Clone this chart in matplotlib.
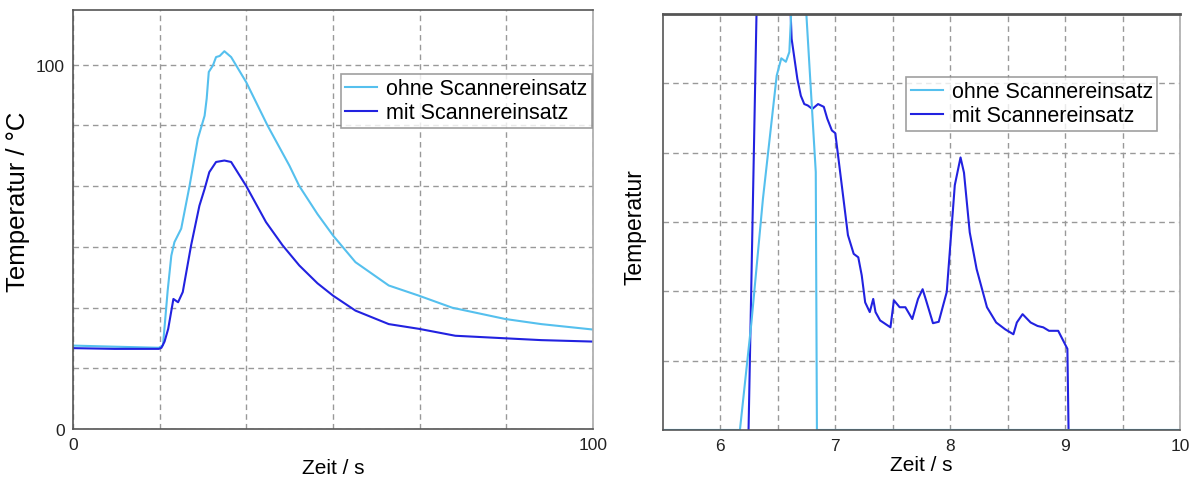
import numpy as np
import matplotlib
matplotlib.use('Agg')
import matplotlib.pyplot as plt

plt.rcParams['font.family'] = ['Liberation Sans', 'DejaVu Sans']

# left panel: full measurement (0-100 s)
t_ohne = [0, 8, 16.5, 17.3, 18.2, 18.9, 19.5, 20.8, 22.4, 24.0, 25.3, 25.7, 26.1,
          26.9, 27.5, 28.2, 29.1, 30.4, 33.3, 37.4, 41.6, 43.5, 47, 50, 54.3,
          60.7, 66.5, 72.9, 83.1, 90, 100]
T_ohne = [22.9, 22.6, 22.3, 23, 38, 47.6, 51.3, 55, 66.7, 79.7, 86, 90.7, 98,
          99.8, 102.1, 102.4, 103.7, 102.1, 95.2, 83.3, 72.3, 66.7, 59, 53.1, 45.8,
          39.4, 36.6, 33.3, 30.2, 28.8, 27.3]
t_mit = [0, 8, 16.5, 17.0, 17.6, 18.3, 19.3, 20.2, 21.1, 22.7, 24.3, 25.3, 26.2,
         27.5, 29.1, 30.4, 33.3, 37.1, 40.3, 43.5, 47, 50, 54.3, 60.7, 66.5,
         73.5, 83.1, 90, 100]
T_mit = [22.2, 22.0, 22.0, 22.3, 24, 27.5, 35.7, 34.8, 37.6, 50.4, 61.3, 65.9, 70.5,
         73.3, 73.7, 73.3, 66.7, 56.8, 50.4, 44.9, 40, 36.6, 32.5, 28.8, 27.5,
         25.6, 24.9, 24.4, 24.0]

# right panel: zoom (5.5-10 s), arbitrary temperature scale
z_ohne = [5.5, 6.17, 6.27, 6.37, 6.49, 6.53, 6.57, 6.60, 6.63, 6.73, 6.83, 6.84, 10]
Z_ohne = [0, 0, 1.55, 3.33, 5.11, 5.36, 5.31, 5.45, 6.5, 6.5, 3.72, 0, 0]
z_mit = [6.245, 6.32, 6.60, 6.62, 6.67, 6.70, 6.73, 6.76, 6.80, 6.85, 6.90, 6.93,
         6.97, 7.0, 7.06, 7.11, 7.16, 7.20, 7.23, 7.26, 7.30, 7.33, 7.35, 7.39,
         7.48, 7.51, 7.56, 7.61, 7.67, 7.72, 7.76, 7.79, 7.85, 7.90, 7.97, 8.04,
         8.09, 8.12, 8.17, 8.23, 8.32, 8.40, 8.48, 8.55, 8.58, 8.63, 8.70, 8.76,
         8.81, 8.86, 8.94, 9.02, 9.03]
Z_mit = [0, 6.5, 6.5, 5.64, 5.06, 4.82, 4.70, 4.68, 4.63, 4.70, 4.66, 4.49,
         4.32, 4.28, 3.48, 2.81, 2.54, 2.49, 2.23, 1.84, 1.70, 1.89, 1.70, 1.58,
         1.48, 1.87, 1.77, 1.77, 1.60, 1.89, 2.03, 1.87, 1.54, 1.56, 1.99, 3.53,
         3.93, 3.71, 2.85, 2.32, 1.77, 1.55, 1.45, 1.38, 1.55, 1.67, 1.55, 1.50,
         1.48, 1.43, 1.43, 1.17, 0]

labels = ['ohne Scannereinsatz', 'mit Scannereinsatz']
c_light = '#55C0EE'
c_dark = '#2222E0'

fig = plt.figure(figsize=(11.93, 4.81), dpi=100)
ax1 = fig.add_axes([0.0612, 0.106, 0.436, 0.871])
ax2 = fig.add_axes([0.5557, 0.104, 0.4334, 0.865])

ax1.plot(t_ohne, T_ohne, color=c_light, lw=1.5, label=labels[0])
ax1.plot(t_mit, T_mit, color=c_dark, lw=1.5, label=labels[1])
ax1.set_xlim(0, 100)
ax1.set_ylim(0, 115)
ax1.set_xticks([0, 100])
ax1.set_yticks([0, 100])
ax1.set_xticks(np.linspace(0, 100, 7)[1:-1], minor=True)
ax1.set_yticks(np.arange(1, 7) * 100 / 6, minor=True)
ax1.set_xlabel('Zeit / s', fontsize=15)
ax1.set_ylabel('Temperatur / °C', fontsize=18.5)
ax1.yaxis.set_label_coords(-0.083, 0.545)

ax2.plot(z_mit, Z_mit, color=c_dark, lw=1.5, label=labels[1])
ax2.plot(z_ohne, Z_ohne, color=c_light, lw=1.5, label=labels[0])
ax2.set_xlim(5.5, 10)
ax2.set_ylim(0, 6)
ax2.set_xticks([6, 7, 8, 9, 10])
ax2.set_xticks(np.arange(6.5, 10, 1.0), minor=True)
ax2.set_yticks([])
ax2.set_yticks([1, 2, 3, 4, 5], minor=True)
ax2.set_xlabel('Zeit / s', fontsize=15, labelpad=1)
ax2.set_ylabel('Temperatur', fontsize=16.5)
ax2.yaxis.set_label_coords(-0.031, 0.49)

for ax in (ax1, ax2):
    ax.grid(True, which='both', color='#999999', linestyle=(0, (4, 3)), lw=1)
    ax.tick_params(which='both', length=0, labelsize=12.5, colors='#222222', pad=6)
    for s in ax.spines.values():
        s.set_color('#555555')
        s.set_linewidth(1.2)
    ax.spines['right'].set_color('#aaaaaa')
    ax.set_axisbelow(True)

ax1.spines['top'].set_color('#555555')
ax2.spines['top'].set_linewidth(2)

h, l = ax2.get_legend_handles_labels()
leg1 = ax1.legend(loc='upper right', bbox_to_anchor=(0.997, 0.848), fontsize=15.5,
                  frameon=True, fancybox=False, edgecolor='#888888',
                  handlelength=1.5, borderpad=0.2, labelspacing=0.15, handletextpad=0.4,
                  borderaxespad=0)
leg2 = ax2.legend(h[::-1], l[::-1], loc='upper right', bbox_to_anchor=(0.956, 0.849),
                  fontsize=15.5, frameon=True, fancybox=False, edgecolor='#888888',
                  handlelength=1.5, borderpad=0.2, labelspacing=0.15, handletextpad=0.4,
                  borderaxespad=0)
for leg in (leg1, leg2):
    leg.get_frame().set_linewidth(1.2)

plt.savefig('out.png', dpi=100)
